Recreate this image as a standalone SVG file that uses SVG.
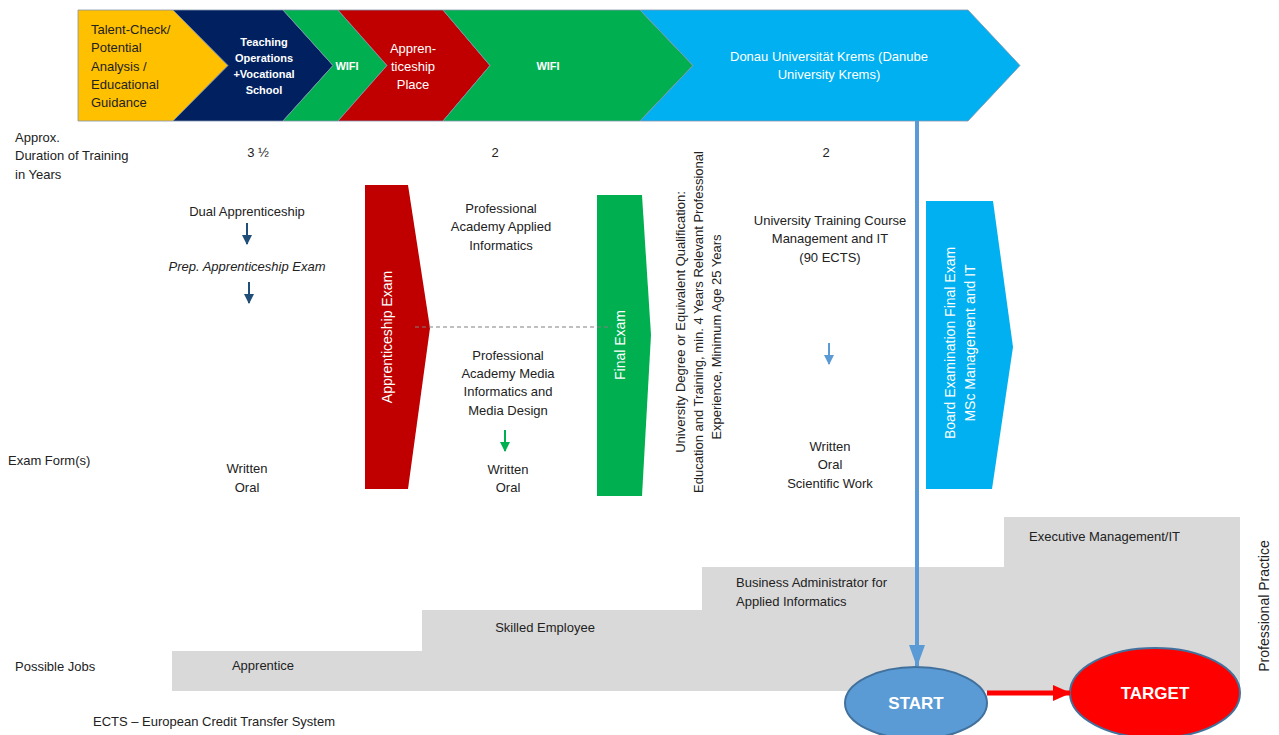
<svg xmlns="http://www.w3.org/2000/svg" width="1279" height="735" viewBox="0 0 1279 735">
<style>
text{font-family:"Liberation Sans",Arial,sans-serif;font-size:13px;fill:#222;dominant-baseline:central}
.c{text-anchor:middle}
.w{fill:#fff}
.b{font-weight:bold}
.band{stroke:#8495ad;stroke-width:0.8}
</style>
<defs>
<marker id="ahDark" markerUnits="userSpaceOnUse" markerWidth="10" markerHeight="10" refX="9" refY="5" orient="auto"><path d="M0,0 L10,5 L0,10 Z" fill="#1f4e79"/></marker>
<marker id="ahGreen" markerUnits="userSpaceOnUse" markerWidth="10" markerHeight="10" refX="9" refY="5" orient="auto"><path d="M0,0 L10,5 L0,10 Z" fill="#00b050"/></marker>
<marker id="ahLight" markerUnits="userSpaceOnUse" markerWidth="10" markerHeight="10" refX="9" refY="5" orient="auto"><path d="M0,0 L10,5 L0,10 Z" fill="#5b9bd5"/></marker>
<marker id="ahBig" markerUnits="userSpaceOnUse" markerWidth="22" markerHeight="16" refX="21" refY="8" orient="auto"><path d="M0,0 L22,8 L0,16 Z" fill="#5b9bd5"/></marker>
<marker id="ahRed" markerUnits="userSpaceOnUse" markerWidth="18" markerHeight="16" refX="17" refY="8" orient="auto"><path d="M0,0 L18,8 L0,16 Z" fill="#ff0000"/></marker>
</defs>

<!-- Top banner -->
<g id="banner-talent">
<polygon class="band" fill="#ffc000" points="78,10 173,10 228,65.5 173,121 78,121"/>
<text x="91" y="29">Talent-Check/</text>
<text x="91" y="47">Potential</text>
<text x="91" y="66">Analysis /</text>
<text x="91" y="84">Educational</text>
<text x="91" y="102">Guidance</text>
</g>
<g id="banner-teaching">
<polygon class="band" fill="#002060" points="173,10 283,10 333,65.5 283,121 173,121 228,65.5"/>
<text class="c w b" x="264" y="42" style="font-size:11px">Teaching</text>
<text class="c w b" x="264" y="58" style="font-size:11px">Operations</text>
<text class="c w b" x="264" y="74" style="font-size:11px">+Vocational</text>
<text class="c w b" x="264" y="90" style="font-size:11px">School</text>
</g>
<g id="banner-wifi1">
<polygon class="band" fill="#00b050" points="283,10 338,10 387,65.5 338,121 283,121 333,65.5"/>
<text class="c w b" x="347" y="66" style="font-size:11px">WIFI</text>
</g>
<g id="banner-place">
<polygon class="band" fill="#c00000" points="338,10 443,10 490,65.5 443,121 338,121 387,65.5"/>
<text class="c w" x="413" y="48">Appren-</text>
<text class="c w" x="413" y="66">ticeship</text>
<text class="c w" x="413" y="84">Place</text>
</g>
<g id="banner-wifi2">
<polygon class="band" fill="#00b050" points="443,10 640,10 693,65.5 640,121 443,121 490,65.5"/>
<text class="c w b" x="548" y="66" style="font-size:11px">WIFI</text>
</g>
<g id="banner-danube">
<polygon class="band" fill="#00b0f0" points="640,10 968,10 1020,65.5 968,121 640,121 693,65.5"/>
<text class="c w" x="829" y="56">Donau Universität Krems (Danube</text>
<text class="c w" x="829" y="74">University Krems)</text>
</g>

<!-- Row labels -->
<g id="labels">
<text x="15" y="137">Approx.</text>
<text x="15" y="155">Duration of Training</text>
<text x="15" y="174">in Years</text>
<text class="c" x="258" y="152">3 ½</text>
<text class="c" x="495" y="152">2</text>
<text class="c" x="826" y="152">2</text>
<text x="8" y="460">Exam Form(s)</text>
<text x="15" y="666">Possible Jobs</text>
<text x="93" y="721">ECTS – European Credit Transfer System</text>
</g>

<!-- Bottom staircase -->
<g id="jobs">
<polygon fill="#d9d9d9" points="172,691 172,651 422,651 422,610 702,610 702,567 1004,567 1004,517 1240,517 1240,691"/>
<text class="c" x="263" y="665">Apprentice</text>
<text class="c" x="545" y="627">Skilled Employee</text>
<text x="736" y="582">Business Administrator for</text>
<text x="736" y="601">Applied Informatics</text>
<text x="1029" y="536">Executive Management/IT</text>
<text class="c" style="font-size:14px" transform="translate(1264,606) rotate(-90)">Professional Practice</text>
</g>

<!-- Column 1 -->
<g id="dual">
<text class="c" x="247" y="211">Dual Apprenticeship</text>
<text class="c" x="247" y="266" style="font-style:italic">Prep. Apprenticeship Exam</text>
<text class="c" x="247" y="468">Written</text>
<text class="c" x="247" y="487">Oral</text>
</g>
<g id="apprenticeship-exam">
<polygon fill="#c00000" points="365,185 408,185 430,328 408,489 365,489"/>
<text class="c w" style="font-size:14px" transform="translate(387,337) rotate(-90)">Apprenticeship Exam</text>
</g>

<!-- Column 2 -->
<g id="academy">
<text class="c" x="501" y="208">Professional</text>
<text class="c" x="501" y="226">Academy Applied</text>
<text class="c" x="501" y="245">Informatics</text>
<text class="c" x="508" y="355">Professional</text>
<text class="c" x="508" y="373">Academy Media</text>
<text class="c" x="508" y="391">Informatics and</text>
<text class="c" x="508" y="410">Media Design</text>
<text class="c" x="508" y="469">Written</text>
<text class="c" x="508" y="487">Oral</text>
</g>
<g id="final-exam">
<polygon fill="#00b050" points="597,195 642,195 651,335 642,496 597,496"/>
<text class="c w" style="font-size:14px" transform="translate(620,345) rotate(-90)">Final Exam</text>
</g>
<g id="admission">
<text class="c" transform="translate(680,322) rotate(-90)">University Degree or Equivalent Qualification:</text>
<text class="c" transform="translate(698,322) rotate(-90)">Education and Training, min. 4 Years Relevant Professional</text>
<text class="c" transform="translate(716,337) rotate(-90)">Experience, Minimum Age 25 Years</text>
</g>

<!-- Column 3 -->
<g id="university-course">
<text class="c" x="830" y="220">University Training Course</text>
<text class="c" x="830" y="238">Management and IT</text>
<text class="c" x="830" y="257">(90 ECTS)</text>
<text class="c" x="830" y="446">Written</text>
<text class="c" x="830" y="464">Oral</text>
<text class="c" x="830" y="483">Scientific Work</text>
</g>
<g id="board-exam">
<polygon fill="#00b0f0" points="926,201 993,201 1013,347 992,489 926,489"/>
<text class="c w" style="font-size:14px" transform="translate(950,343) rotate(-90)">Board Examination Final Exam</text>
<text class="c w" style="font-size:14px" transform="translate(970,343) rotate(-90)">MSc  Management and IT</text>
</g>

<g id="start">
<ellipse cx="916" cy="703" rx="71" ry="36" fill="#5b9bd5" stroke="#41719c" stroke-width="2"/>
<text class="c w b" x="916" y="703" style="font-size:17px">START</text>
</g>
<g id="target">
<ellipse cx="1155" cy="693" rx="85" ry="45" fill="#ff0000" stroke="#41719c" stroke-width="2"/>
<text class="c w b" x="1155" y="693" style="font-size:17px">TARGET</text>
</g>

<!-- Connectors -->
<g id="connectors" fill="none">
<line x1="247" y1="223" x2="247" y2="244" stroke="#1f4e79" stroke-width="2" marker-end="url(#ahDark)"/>
<line x1="249" y1="282" x2="249" y2="303" stroke="#1f4e79" stroke-width="2" marker-end="url(#ahDark)"/>
<line x1="505" y1="430" x2="505" y2="451" stroke="#00b050" stroke-width="2" marker-end="url(#ahGreen)"/>
<line x1="829" y1="343" x2="829" y2="364" stroke="#5b9bd5" stroke-width="2" marker-end="url(#ahLight)"/>
<line x1="415" y1="327" x2="612" y2="327" stroke="#808080" stroke-width="1" stroke-dasharray="4,3"/>
<line x1="917" y1="121" x2="917" y2="666" stroke="#5b9bd5" stroke-width="4" marker-end="url(#ahBig)"/>
<line x1="987" y1="693" x2="1070" y2="693" stroke="#ff0000" stroke-width="5" marker-end="url(#ahRed)"/>
</g>
</svg>
